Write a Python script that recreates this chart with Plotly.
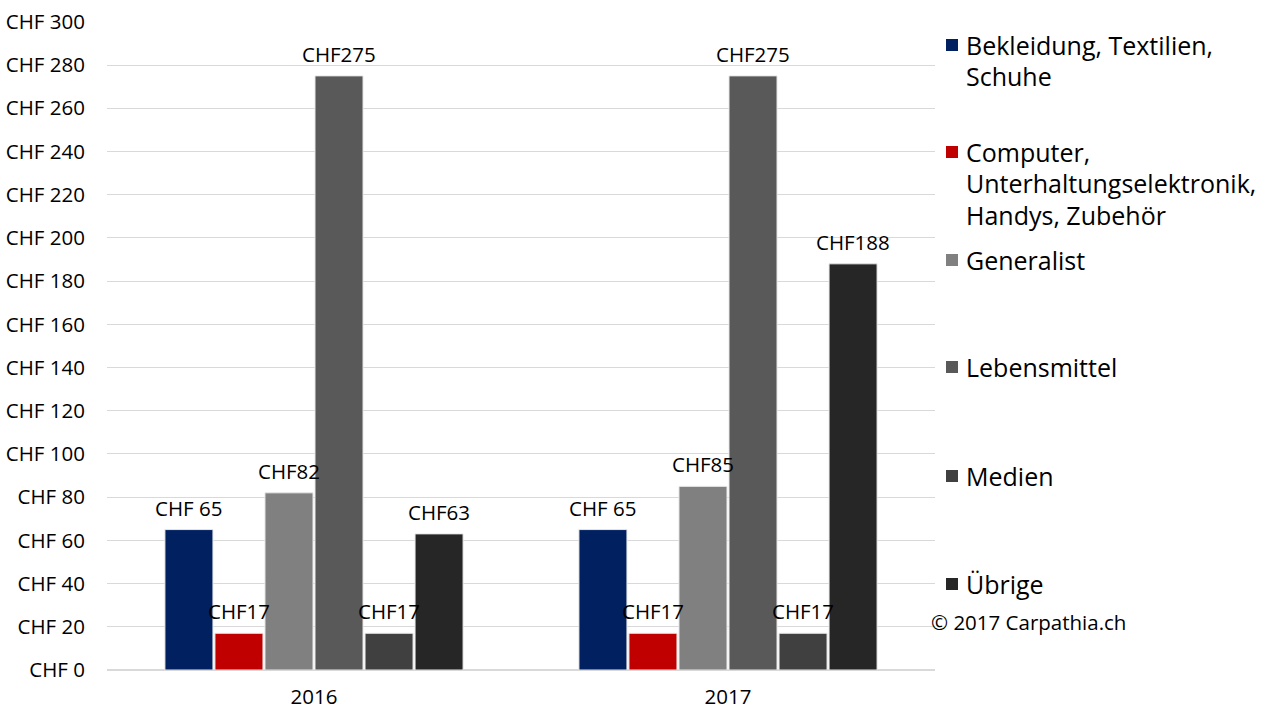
import plotly.graph_objects as go

years = ["2016", "2017"]
series_names = [
    "Bekleidung, Textilien, Schuhe",
    "Computer, Unterhaltungselektronik, Handys, Zubehör",
    "Generalist",
    "Lebensmittel",
    "Medien",
    "Übrige",
]
legend_lines = [
    ["Bekleidung, Textilien,", "Schuhe"],
    ["Computer,", "Unterhaltungselektronik,", "Handys, Zubehör"],
    ["Generalist"],
    ["Lebensmittel"],
    ["Medien"],
    ["Übrige"],
]
values = [
    [65, 65],
    [17, 17],
    [82, 85],
    [275, 275],
    [17, 17],
    [63, 188],
]
labels = [
    ["CHF 65", "CHF 65"],
    ["CHF17", "CHF17"],
    ["CHF82", "CHF85"],
    ["CHF275", "CHF275"],
    ["CHF17", "CHF17"],
    ["CHF63", "CHF188"],
]
colors = ["#002060", "#C00000", "#808080", "#595959", "#404040", "#262626"]
y_ticks = list(range(0, 301, 20))
y_ticktext = [f"CHF {v}" for v in y_ticks]
copyright_text = "© 2017 Carpathia.ch"

FONT = "Open Sans"
SMALL = 20.5
BIG = 25
W, H = 1275, 708
L, R, T, B = 107, 340, 21, 38
PW, PH = W - L - R, H - T - B


def px2x(px):
    return (px - L) / PW


def px2y(py):
    return (H - B - py) / PH


xpos = list(range(len(years)))
n = len(series_names)
group_w = 0.725
slot_w = group_w / n
bar_w = slot_w * 0.96

fig = go.Figure()
for i, (name, vals, col, labs) in enumerate(zip(series_names, values, colors, labels)):
    off = (i - (n - 1) / 2) * slot_w
    fig.add_trace(go.Bar(
        name=name, x=xpos, y=list(vals), width=bar_w, offset=off - bar_w / 2,
        marker=dict(color=col, line=dict(color="#e8e8e8", width=1)),
        showlegend=False,
    ))
    for xp, v, lab in zip(xpos, vals, labs):
        fig.add_annotation(
            x=xp + off, y=v, xref="x", yref="y", text=lab, showarrow=False,
            yanchor="bottom", yshift=6,
            font=dict(family=FONT, size=SMALL, color="#000000"),
        )

# custom legend
legend_y = [[45, 76], [152, 183, 215], [260], [367], [476], [584]]
for lines, ys, col in zip(legend_lines, legend_y, colors):
    fig.add_shape(
        type="rect", xref="paper", yref="paper",
        x0=px2x(946), x1=px2x(958), y0=px2y(ys[0] + 6), y1=px2y(ys[0] - 6),
        fillcolor=col, line=dict(width=0),
    )
    for line, yy in zip(lines, ys):
        fig.add_annotation(
            x=px2x(964), y=px2y(yy), xref="paper", yref="paper", text=line,
            showarrow=False, xanchor="left", yanchor="middle",
            font=dict(family=FONT, size=BIG, color="#000000"),
        )

fig.add_annotation(
    x=px2x(929), y=px2y(622), xref="paper", yref="paper", text=copyright_text,
    showarrow=False, xanchor="left", yanchor="middle",
    font=dict(family=FONT, size=SMALL, color="#000000"),
)

fig.update_layout(
    width=W, height=H,
    margin=dict(l=L, r=R, t=T, b=B, pad=0),
    paper_bgcolor="white", plot_bgcolor="white",
    barmode="overlay",
    font=dict(family=FONT, size=SMALL, color="#000000"),
)
fig.update_yaxes(
    range=[0, 300.4], tickvals=y_ticks, ticktext=y_ticktext, automargin=False,
    showgrid=True, gridcolor="#d9d9d9", gridwidth=1,
    zeroline=True, zerolinecolor="#d9d9d9", showline=False,
    ticks="outside", ticklen=17, tickcolor="rgba(0,0,0,0)",
    tickfont=dict(family=FONT, size=SMALL),
)
fig.update_xaxes(
    range=[-0.5, len(years) - 0.5], tickvals=xpos, ticktext=years,
    automargin=False, showgrid=False, showline=False, zeroline=False,
    ticks="outside", ticklen=8, tickcolor="rgba(0,0,0,0)",
    tickfont=dict(family=FONT, size=SMALL),
)

fig.write_html(
    "out.html",
    config={"displayModeBar": False},
    post_script="document.body.style.margin='0';document.body.style.overflow='hidden';",
)
